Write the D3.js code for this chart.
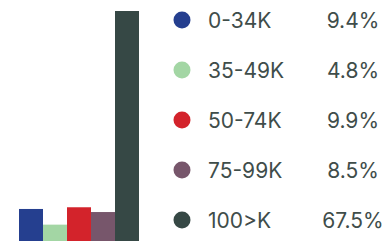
<!DOCTYPE html>
<html>
<head>
<meta charset="utf-8">
<script src="https://cdn.jsdelivr.net/npm/d3@7"></script>
<style>
  body { margin: 0; background: #fff; }
  svg { display: block; }
  .legend-text { font-family: Inter, "Noto Sans", sans-serif; font-size: 21px; fill: #3f4d4a; }
</style>
</head>
<body>
<div id="chart"></div>
<script>
const categories = ["0-34K", "35-49K", "50-74K", "75-99K", "100>K"];
const values = [9.4, 4.8, 9.9, 8.5, 67.5];
const labels = ["9.4%", "4.8%", "9.9%", "8.5%", "67.5%"];
const colors = ["#253f8f", "#a3d6a4", "#d3232b", "#77566b", "#364845"];

const width = 387;
const height = 241;

const svg = d3
  .select("#chart")
  .append("svg")
  .attr("width", width)
  .attr("height", height);

const x = d3.scaleBand().domain(categories).range([19, 139]).padding(0);
const y = d3.scaleLinear().domain([0, d3.max(values)]).range([241, 11]);

svg
  .selectAll(".bar")
  .data(values)
  .enter()
  .append("rect")
  .attr("class", "bar")
  .attr("x", (d, i) => x(categories[i]))
  .attr("y", d => y(d))
  .attr("width", x.bandwidth())
  .attr("height", d => y(0) - y(d))
  .attr("fill", (d, i) => colors[i]);

// legend rows
const rowY = d3.scalePoint().domain(categories).range([20, 220]);

const rows = svg
  .selectAll(".row")
  .data(categories)
  .enter()
  .append("g")
  .attr("class", "row")
  .attr("transform", d => `translate(0,${rowY(d)})`);

rows
  .append("circle")
  .attr("cx", 182)
  .attr("r", 8.5)
  .attr("fill", (d, i) => colors[i]);

rows
  .append("text")
  .attr("class", "legend-text")
  .attr("x", 208)
  .attr("dy", "0.36em")
  .text(d => d);

rows
  .append("text")
  .attr("class", "legend-text")
  .attr("x", 353)
  .attr("dy", "0.36em")
  .attr("text-anchor", "middle")
  .text((d, i) => labels[i]);
</script>
</body>
</html>
